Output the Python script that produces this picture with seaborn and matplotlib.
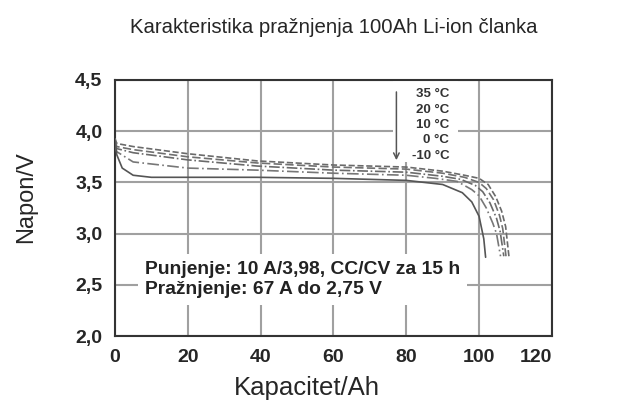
import matplotlib.pyplot as plt
import matplotlib.patches as mpatches
import seaborn as sns
import numpy as np
import pandas as pd

# podaci ocitani sa slike
temperature = ["35 °C", "20 °C", "10 °C", "0 °C", "-10 °C"]

kap_35 = [0, 0.5, 5, 20, 39, 60, 80, 90, 96, 100, 102.5, 104.6, 106.2, 107.3, 108.2]
nap_35 = [3.93, 3.88, 3.85, 3.78, 3.71, 3.67, 3.65, 3.61, 3.57, 3.54, 3.48, 3.36, 3.22, 3.07, 2.78]

kap_20 = [0, 0.5, 5, 20, 39, 60, 80, 90, 96, 100, 102, 104, 105.6, 106.5, 107.4]
nap_20 = [3.90, 3.85, 3.82, 3.75, 3.69, 3.65, 3.63, 3.59, 3.55, 3.50, 3.44, 3.33, 3.18, 3.05, 2.78]

kap_10 = [0, 0.5, 5, 20, 39, 60, 80, 90, 95, 99, 101, 103, 104.8, 105.8, 106.8]
nap_10 = [3.88, 3.83, 3.79, 3.72, 3.66, 3.62, 3.60, 3.56, 3.53, 3.47, 3.41, 3.30, 3.15, 3.02, 2.78]

kap_0 = [0, 0.5, 5, 20, 39, 60, 80, 88, 94, 98, 100, 102, 103.8, 104.8, 105.9]
nap_0 = [3.86, 3.80, 3.70, 3.64, 3.62, 3.59, 3.57, 3.54, 3.51, 3.43, 3.37, 3.25, 3.10, 3.00, 2.78]

kap_m10 = [0, 0.5, 2, 5, 10, 20, 39, 60, 80, 90, 95.4, 98, 100, 101.3, 101.8]
nap_m10 = [3.91, 3.77, 3.64, 3.57, 3.55, 3.55, 3.55, 3.54, 3.52, 3.48, 3.40, 3.31, 3.17, 2.95, 2.77]

kapaciteti = [kap_35, kap_20, kap_10, kap_0, kap_m10]
naponi = [nap_35, nap_20, nap_10, nap_0, nap_m10]

x_ticks = [0, 20, 40, 60, 80, 100, 120]
y_ticks = [2.0, 2.5, 3.0, 3.5, 4.0, 4.5]
y_tick_labels = ["2,0", "2,5", "3,0", "3,5", "4,0", "4,5"]

sns.set_style("white")
plt.rcParams['font.family'] = ['Liberation Sans', 'DejaVu Sans']

fig = plt.figure(figsize=(6.18, 4.12), dpi=100)
ax = fig.add_axes([0.186, 0.184, 0.707, 0.622])

stilovi = ['--', (0, (5, 2)), '-.', (0, (7, 2, 1, 2)), '-']
boje = ['#6a6a6a', '#707070', '#6a6a6a', '#777777', '#555555']

for i in range(len(temperature)):
    df = pd.DataFrame({'Kapacitet': kapaciteti[i], 'Napon': naponi[i]})
    sns.lineplot(data=df, x='Kapacitet', y='Napon', ax=ax, sort=False,
                 color=boje[i], linestyle=stilovi[i], linewidth=1.2, zorder=3)

ax.set_xlim(0, 120)
ax.set_ylim(2.0, 4.5)
ax.set_xticks(x_ticks)
ax.set_yticks(y_ticks)
ax.set_yticklabels(y_tick_labels)
ax.grid(True, color='#a0a0a0', linewidth=1.5)
ax.set_axisbelow(True)
ax.tick_params(length=0, labelsize=14, pad=9)
for lab in ax.get_xticklabels() + ax.get_yticklabels():
    lab.set_fontweight('bold')
ax.get_xticklabels()[-1].set_horizontalalignment('right')
for s in ax.spines.values():
    s.set_color('#333333')
    s.set_linewidth(1.5)

# bijela pozadina iza oznaka temperature
ax.add_patch(mpatches.Rectangle((76.3, 3.70), 17.8, 0.79, facecolor='white',
                                edgecolor='none', zorder=2))
ax.text(91.8, 4.42, "\n".join(temperature), ha='right', va='top', fontsize=9.5,
        fontweight='bold', color='#333333', linespacing=1.38, zorder=4)
ax.annotate('', xy=(77.3, 3.69), xytext=(77.3, 4.41),
            arrowprops=dict(arrowstyle='->', color='#555555', lw=1.1), zorder=4)

ax.text(8.2, 2.55, "Punjenje: 10 A/3,98, CC/CV za 15 h\nPražnjenje: 67 A do 2,75 V",
        ha='left', va='center', fontsize=13.9, fontweight='bold', color='#222222',
        linespacing=1.25, zorder=4,
        bbox=dict(facecolor='white', edgecolor='none', pad=5))

ax.set_xlabel('Kapacitet/Ah', fontsize=18.5)
ax.set_ylabel('Napon/V', fontsize=17)
ax.xaxis.set_label_coords(0.44, -0.155)
ax.yaxis.set_label_coords(-0.178, 0.543)
ax.set_title('Karakteristika pražnjenja 100Ah Li-ion članka', fontsize=14.7, pad=34)

fig.savefig('out.png', dpi=100)
